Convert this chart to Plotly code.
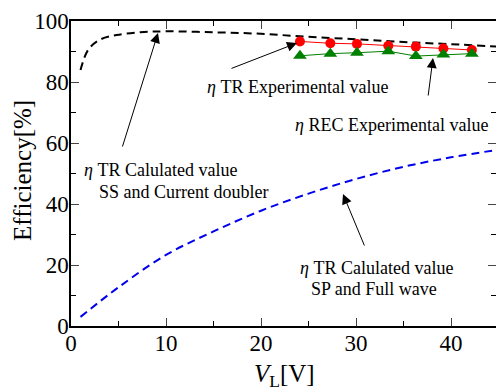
import plotly.graph_objects as go

# Data
ss_x = [1, 1.8, 3, 4.8, 7.3, 10, 15, 20, 25, 30, 35, 40, 45]
ss_y = [83.9, 90.5, 93.8, 95.4, 96.3, 96.6, 96.3, 95.8, 94.8, 94.0, 93.1, 92.4, 91.6]

sp_x = [1, 5, 10, 15, 20, 25, 30, 35, 40, 45]
sp_y = [3.0, 12.7, 23.3, 31.0, 37.8, 43.4, 48.2, 52.2, 55.3, 57.8]

exp_x = [24.1, 27.3, 30.1, 33.4, 36.3, 39.2, 42.2]
tr_exp = [93.3, 92.7, 92.5, 91.9, 91.6, 91.0, 90.5]
rec_exp = [88.6, 89.3, 89.6, 90.1, 88.5, 89.0, 89.3]

x_ticks = [0, 10, 20, 30, 40]
y_ticks = [0, 20, 40, 60, 80, 100]

FONT = "Liberation Serif, Times New Roman, Times, serif"

fig = go.Figure()
fig.add_trace(go.Scatter(x=ss_x, y=ss_y, mode="lines", line=dict(color="black", width=2, dash="8px,5px", shape="spline"), showlegend=False))
fig.add_trace(go.Scatter(x=sp_x, y=sp_y, mode="lines", line=dict(color="#0000ee", width=2, dash="8px,5px", shape="spline"), showlegend=False))
fig.add_trace(go.Scatter(x=exp_x, y=tr_exp, mode="lines+markers", line=dict(color="red", width=1),
                         marker=dict(symbol="circle", size=10, color="red"), showlegend=False))
fig.add_trace(go.Scatter(x=exp_x, y=rec_exp, mode="lines+markers", line=dict(color="green", width=1),
                         marker=dict(symbol="triangle-up", size=12, color="green"), showlegend=False))
# dummy trace for right axis ticks
fig.add_trace(go.Scatter(x=[None], y=[None], yaxis="y2", showlegend=False))

xmax = (496 - 71) / 9.5

fig.update_layout(
    width=496, height=389,
    margin=dict(l=71, r=0, t=21, b=63, autoexpand=False),
    paper_bgcolor="white", plot_bgcolor="white",
    font=dict(family=FONT, color="black", size=23),
    xaxis=dict(range=[0, xmax], tickvals=x_ticks, ticks="inside", ticklen=8, tickwidth=1,
               showline=True, linecolor="black", linewidth=1.5, mirror="ticks", showgrid=False, zeroline=False,
               minor=dict(tickvals=[5, 15, 25, 35], ticks="inside", ticklen=5, tickcolor="black"),
               tickfont=dict(size=23, family=FONT, color="black"), ticklabelstandoff=-4, automargin=False),
    yaxis=dict(range=[0, 100], tickvals=y_ticks, ticks="inside", ticklen=8, tickwidth=1,
               showline=True, linecolor="black", linewidth=1.5, showgrid=False, zeroline=False,
               minor=dict(tickvals=[10, 30, 50, 70, 90], ticks="inside", ticklen=5, tickcolor="black"),
               tickfont=dict(size=23, family=FONT, color="black"), ticklabelstandoff=-4, automargin=False),
    yaxis2=dict(range=[0, 100], overlaying="y", side="right", tickvals=y_ticks, ticks="inside",
                ticklen=8, showticklabels=False, showline=False, showgrid=False, zeroline=False,
                minor=dict(tickvals=[10, 30, 50, 70, 90], ticks="inside", ticklen=5, tickcolor="black"),
                automargin=False),
)

def pax(xp):
    return (xp - 71) / 9.5

def pay(yp):
    return (326 - yp) / 3.05

# axis titles (paper coordinates)
fig.add_annotation(xref="paper", yref="paper", x=(22 - 71) / 425, y=(326 - 171) / 305, xanchor="center", yanchor="middle",
                   text="Efficiency[%]", textangle=-90, showarrow=False, font=dict(size=25, family=FONT))
fig.add_annotation(xref="paper", yref="paper", x=(284 - 71) / 425, y=(326 - 375) / 305,
                   text="<i>V</i><sub>L</sub>[V]", showarrow=False,
                   font=dict(size=25, family=FONT), xanchor="center", yanchor="middle")

texts = [
    ("<i>η</i> TR Calulated value", 82, 170, "left"),
    ("SS and Current doubler", 97, 192, "left"),
    ("<i>η</i> TR Experimental value", 205, 87, "left"),
    ("<i>η</i> REC Experimental value", 293, 125, "left"),
    ("<i>η</i> TR Calulated value", 376, 268, "center"),
    ("SP and Full wave", 374, 289, "center"),
]
for t, xp, yp, anc in texts:
    fig.add_annotation(x=pax(xp), y=pay(yp), text=t, showarrow=False, xanchor=anc, yanchor="middle",
                       font=dict(size=18, family=FONT))

arrows = [
    ((122, 148), (158, 33)),
    ((230, 69), (297, 43)),
    ((428, 97), (433, 58)),
    ((365, 247), (343, 194)),
]
for (tx, ty), (hx, hy) in arrows:
    fig.add_annotation(x=pax(hx), y=pay(hy), ax=pax(tx), ay=pay(ty), xref="x", yref="y", axref="x", ayref="y",
                       text="", showarrow=True, arrowhead=2, arrowsize=2, arrowwidth=1, arrowcolor="black",
                       standoff=0)

fig.write_html("out.html", config={"displayModeBar": False},
               post_script="document.body.style.margin='0';document.body.style.overflow='hidden';")
